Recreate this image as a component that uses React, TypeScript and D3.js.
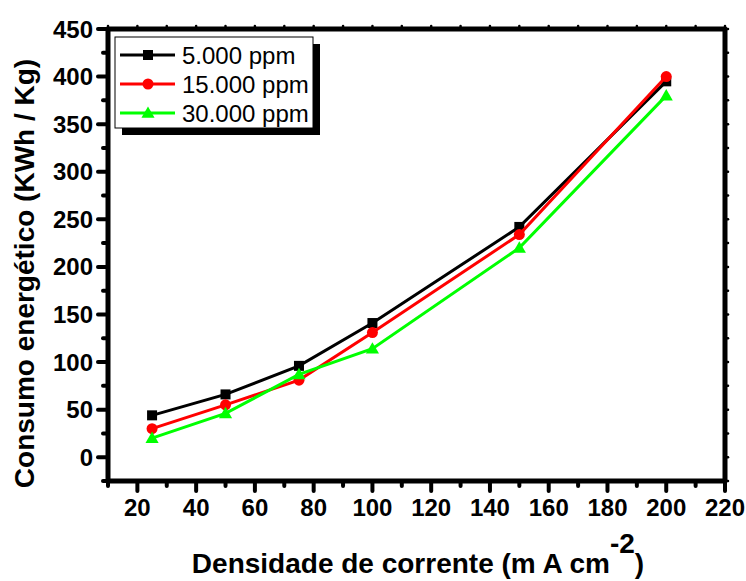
import React from "react";
import * as d3 from "d3";

const xValues = [25, 50, 75, 100, 150, 200];
const series5000 = [44, 66, 96, 141, 242, 395];
const series15000 = [30, 55, 81, 131, 234, 400];
const series30000 = [20, 46, 87, 114, 220, 380];
const seriesNames = ["5.000 ppm", "15.000 ppm", "30.000 ppm"];
const seriesColors = ["#000000", "#ff0000", "#00ff00"];
const seriesShapes = ["square", "circle", "triangle"];
const xMajorTicks = [20, 40, 60, 80, 100, 120, 140, 160, 180, 200, 220];
const yMajorTicks = [0, 50, 100, 150, 200, 250, 300, 350, 400, 450];

const W = 746, H = 581;
const L = 108, R = 725, T = 29, B = 481;
const FONT = "'Liberation Sans', Arial, sans-serif";

function Marker({ shape, x, y, color }: { shape: string; x: number; y: number; color: string }) {
  if (shape === "square") return <rect x={x - 5} y={y - 5} width={10} height={10} fill={color} />;
  if (shape === "circle") return <circle cx={x} cy={y} r={5.5} fill={color} />;
  const sym = d3.symbol().type(d3.symbolTriangle).size(75)();
  return <path d={sym || ""} transform={`translate(${x},${y + 1})`} fill={color} />;
}

export default function App() {
  const x = d3.scaleLinear().domain([10, 220]).range([L, R]);
  const y = d3.scaleLinear().domain([-25, 450]).range([B, T]);
  const data = [series5000, series15000, series30000];
  const line = d3.line<number>().x((_, i) => x(xValues[i])).y((v) => y(v));

  const xMinor = d3.range(10, 221, 10).filter((v) => v % 20 !== 0);
  const yMinor = d3.range(-25, 451, 25).filter((v) => v % 50 !== 0);
  const topTicks = d3.range(10, 221, 10);
  const rightTicks = d3.range(-25, 451, 25);

  const legendRows = [55, 84, 113];

  return (
    <svg width={W} height={H} style={{ position: "absolute", left: 0, top: 0, background: "#fff" }} fontFamily={FONT}>
      <rect x={0} y={0} width={W} height={H} fill="#fff" />
      {data.map((s, k) => (
        <g key={k}>
          <path d={line(s) || ""} fill="none" stroke={seriesColors[k]} strokeWidth={3} />
          {s.map((v, i) => (
            <Marker key={i} shape={seriesShapes[k]} x={x(xValues[i])} y={y(v)} color={seriesColors[k]} />
          ))}
        </g>
      ))}
      <g stroke="#000" strokeLinecap="round" strokeWidth={4}>
        {xMajorTicks.map((t) => (
          <line key={"xm" + t} x1={x(t)} x2={x(t)} y1={B} y2={B + 10} />
        ))}
        {xMinor.map((t) => (
          <line key={"xn" + t} x1={x(t)} x2={x(t)} y1={B} y2={B + 5} />
        ))}
        {yMajorTicks.map((t) => (
          <line key={"ym" + t} x1={L} x2={L - 10} y1={y(t)} y2={y(t)} />
        ))}
        {yMinor.map((t) => (
          <line key={"yn" + t} x1={L} x2={L - 5} y1={y(t)} y2={y(t)} />
        ))}
      </g>
      <g stroke="#000" strokeLinecap="round" strokeWidth={2.5}>
        {topTicks.map((t) => (
          <line key={"tt" + t} x1={x(t)} x2={x(t)} y1={T} y2={T - 3} />
        ))}
        {rightTicks.map((t) => (
          <line key={"rt" + t} x1={R} x2={R + 3} y1={y(t)} y2={y(t)} />
        ))}
      </g>
      <rect x={L} y={T} width={R - L} height={B - T} fill="none" stroke="#000" strokeWidth={5} strokeLinejoin="round" />
      <g fontSize={24} fontWeight="bold" fill="#000">
        {xMajorTicks.map((t) => (
          <text key={"xl" + t} x={x(t)} y={516} textAnchor="middle">{t}</text>
        ))}
        {yMajorTicks.map((t) => (
          <text key={"yl" + t} x={93} y={y(t) + 8.5} textAnchor="end">{t}</text>
        ))}
      </g>
      <text x={418} y={573} textAnchor="middle" fontSize={28} fontWeight="bold">
        Densidade de corrente (m A cm<tspan dy={-20}>-2</tspan><tspan dy={20}>)</tspan>
      </text>
      <text transform={`translate(34,${(490 + 57) / 2}) rotate(-90)`} textAnchor="middle" fontSize={28} fontWeight="bold">
        Consumo energético (KWh / Kg)
      </text>
      <rect x={122} y={44} width={198} height={91} fill="#000" />
      <rect x={115} y={37} width={198} height={91} fill="#fff" stroke="#000" strokeWidth={1} />
      {seriesNames.map((n, k) => (
        <g key={n}>
          <line x1={120} x2={175} y1={legendRows[k]} y2={legendRows[k]} stroke={seriesColors[k]} strokeWidth={3} />
          <Marker shape={seriesShapes[k]} x={148} y={legendRows[k]} color={seriesColors[k]} />
          <text x={182} y={legendRows[k] + 8.5} fontSize={24}>{n}</text>
        </g>
      ))}
    </svg>
  );
}
